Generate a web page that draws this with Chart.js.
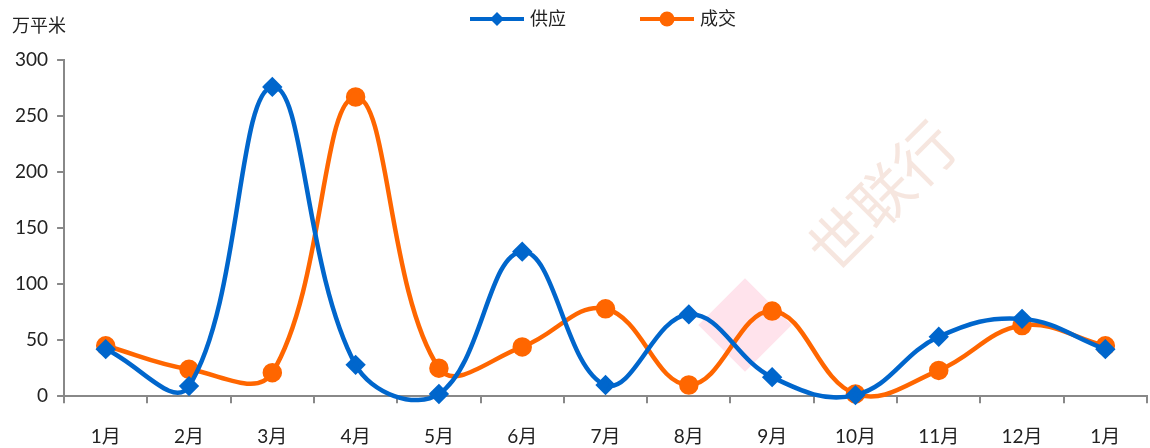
<!DOCTYPE html>
<html>
<head>
<meta charset="utf-8">
<script src="https://cdn.jsdelivr.net/npm/chart.js@4/dist/chart.umd.min.js"></script>
<style>
  html, body { margin: 0; padding: 0; background: #fff; overflow: hidden; }
  canvas { display: block; }
</style>
</head>
<body>
<canvas id="canvas" width="1150" height="448"></canvas>
<script>
const months = ['1月', '2月', '3月', '4月', '5月', '6月', '7月', '8月', '9月', '10月', '11月', '12月', '1月'];
const supply = [42, 9, 276, 28, 2, 129, 10, 73, 17, 1, 53, 69, 42];
const deals = [45, 24, 21, 267, 25, 44, 78, 10, 76, 2, 23, 63, 45];
const yTicks = [0, 50, 100, 150, 200, 250, 300];

const BLUE = '#0066CC';
const ORANGE = '#FF6600';
const FONT = "Lato, 'Noto Sans CJK SC', sans-serif";

// legend: line with the marker on it, then the name
function drawSwatch(g, x, y, color, style) {
    g.strokeStyle = color;
    g.lineWidth = 4;
    g.beginPath(); g.moveTo(x, y); g.lineTo(x + 54, y); g.stroke();
    g.fillStyle = color;
    g.beginPath();
    if (style === 'diamond') {
        g.moveTo(x + 27, y - 7); g.lineTo(x + 34, y); g.lineTo(x + 27, y + 7); g.lineTo(x + 20, y);
    } else {
        g.arc(x + 27, y, 7.5, 0, Math.PI * 2);
    }
    g.fill();
}

const extras = {
    id: 'extras',
    beforeDatasetsDraw(chart) {
        const g = chart.ctx;
        g.save();
        g.translate(745, 325);
        g.rotate(-Math.PI / 4);
        g.fillStyle = 'rgba(255, 200, 218, 0.5)';
        g.fillRect(-33, -33, 66, 66);
        g.restore();
        g.save();
        g.translate(882, 196);
        g.rotate(-Math.PI / 4);
        g.fillStyle = 'rgba(235, 200, 185, 0.45)';
        g.font = "60px 'Noto Sans CJK SC'";
        g.textAlign = 'center';
        g.textBaseline = 'middle';
        g.fillText('世联行', 0, 0);
        g.restore();
    },
    afterDraw(chart) {
        const g = chart.ctx;
        g.save();
        g.fillStyle = '#222';
        g.font = "18px 'Noto Sans CJK SC'";
        g.textAlign = 'left';
        g.textBaseline = 'middle';
        g.fillText('万平米', 12, 25);
        const styles = ['diamond', 'circle'];
        const xs = [470, 640];
        chart.data.datasets.forEach((ds, i) => {
            drawSwatch(g, xs[i], 19, ds.borderColor, styles[i]);
            g.fillStyle = '#222';
            g.font = '18px ' + FONT;
            g.fillText(ds.label, xs[i] + 60, 19);
        });
        g.restore();
    }
};

const ctx = document.getElementById('canvas').getContext('2d');
const myChart = new Chart(ctx, {
    type: 'line',
    data: {
        labels: months,
        datasets: [{
            label: '供应',
            data: supply,
            borderColor: BLUE,
            backgroundColor: BLUE,
            borderWidth: 4.5,
            pointStyle: 'rectRot',
            pointRadius: 7,
            pointHoverRadius: 7,
            tension: 0.4,
            clip: false
        }, {
            label: '成交',
            data: deals,
            borderColor: ORANGE,
            backgroundColor: ORANGE,
            borderWidth: 4.5,
            pointStyle: 'circle',
            pointRadius: 7.5,
            pointHoverRadius: 7.5,
            tension: 0.4,
            clip: false
        }]
    },
    options: {
        responsive: false,
        animation: false,
        elements: { line: { capBezierPoints: false } },
        layout: { autoPadding: false, padding: { left: 6, right: 3, top: 60, bottom: -22 } },
        plugins: {
            tooltip: { enabled: false },
            legend: { display: false }
        },
        scales: {
            x: {
                offset: true,
                grid: {
                    display: true,
                    drawOnChartArea: false,
                    offset: true,
                    color: '#888',
                    lineWidth: 2,
                    tickLength: 7
                },
                border: { color: '#888', width: 2 },
                ticks: {
                    color: '#222',
                    padding: 22,
                    maxRotation: 0,
                    autoSkip: false,
                    font: { family: FONT, size: 19 }
                }
            },
            y: {
                min: 0,
                max: 300,
                afterBuildTicks(scale) {
                    scale.ticks = yTicks.map(v => ({ value: v }));
                },
                grid: {
                    display: true,
                    drawOnChartArea: false,
                    color: '#888',
                    lineWidth: 2,
                    tickLength: 7
                },
                border: { color: '#888', width: 2 },
                ticks: {
                    color: '#222',
                    padding: 9,
                    font: { family: FONT, size: 19 }
                }
            }
        }
    },
    plugins: [extras]
});
</script>
</body>
</html>
